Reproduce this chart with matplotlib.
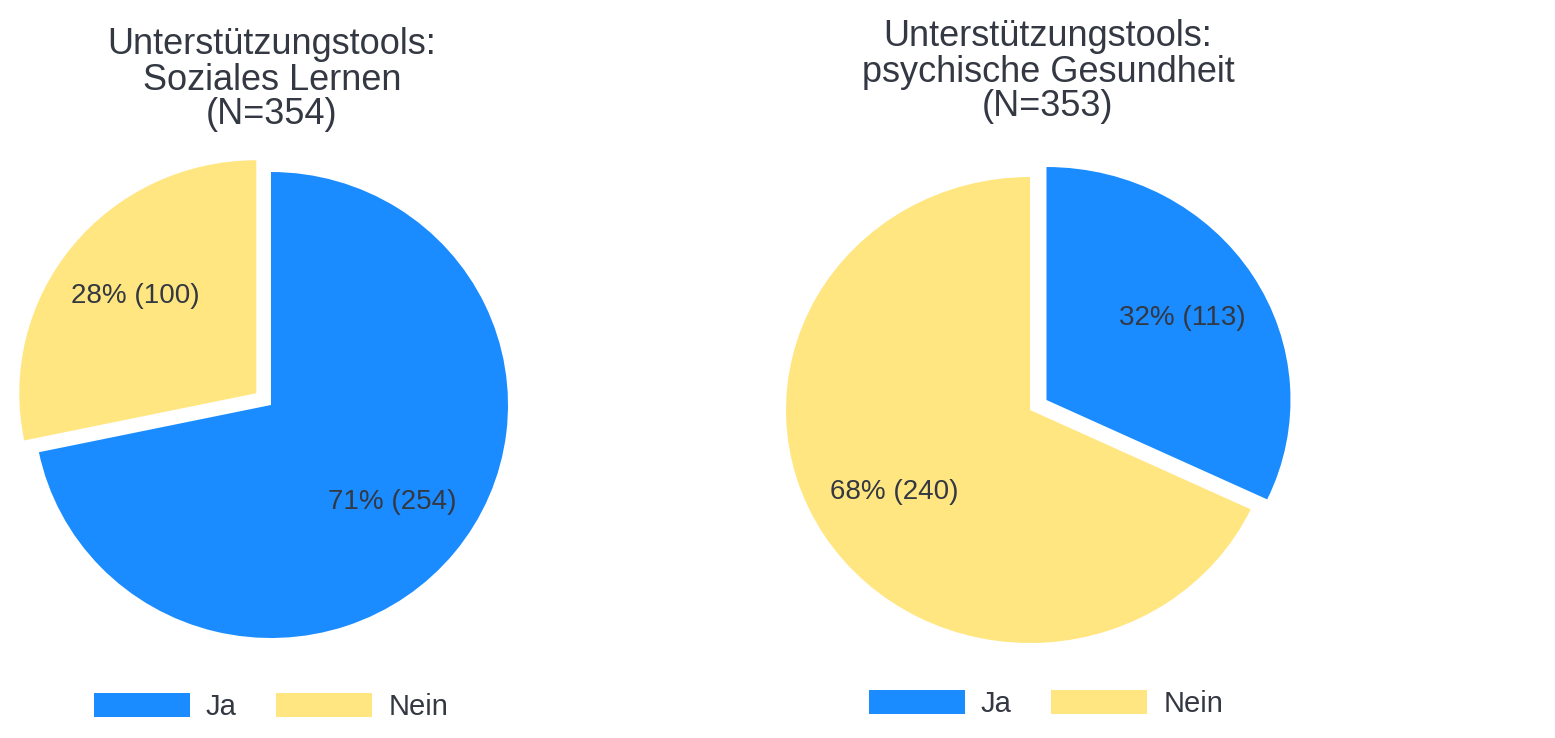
import matplotlib.pyplot as plt

W, H = 1555, 738

# data
categories = ["Ja", "Nein"]
colors = ["#1a8cff", "#ffe680"]

left_title = "Unterstützungstools:\nSoziales Lernen\n(N=354)"
left_counts = [254, 100]
left_pcts = [71, 28]

right_title = "Unterstützungstools:\npsychische Gesundheit\n(N=353)"
right_counts = [113, 240]
right_pcts = [32, 68]

text_color = "#333842"
plt.rcParams["font.family"] = ["Liberation Sans", "DejaVu Sans"]

fig = plt.figure(figsize=(W / 100, H / 100), dpi=100)

L = 1.12


def pie_axes(cx, cy, rx, ry):
    rect = [(cx - L * rx) / W, 1 - (cy + L * ry) / H, 2 * L * rx / W, 2 * L * ry / H]
    return fig.add_axes(rect)


def draw_pie(ax, counts, pcts, explode):
    wedges, _, autotexts = ax.pie(
        counts, colors=colors, startangle=90, counterclock=False,
        explode=explode, autopct="%1.0f%%", pctdistance=0.66,
        wedgeprops=dict(linewidth=0),
        textprops=dict(fontsize=20, color=text_color),
    )
    for t, p, c in zip(autotexts, pcts, counts):
        t.set_text(f"{p}% ({c})")
    for w in wedges:
        w.set_clip_on(False)
    ax.set_aspect("auto")
    ax.set_xlim(-L, L)
    ax.set_ylim(-L, L)
    ax.axis("off")
    return wedges


ax1 = pie_axes(271, 405, 237, 233)
w1 = draw_pie(ax1, left_counts, left_pcts, [0, 0.08])

ax2 = pie_axes(1030, 410, 244, 233)
w2 = draw_pie(ax2, right_counts, right_pcts, [0.08, 0])

fig.text(272 / W, 1 - 80 / H, left_title, ha="center", va="center",
         fontsize=26, color=text_color, linespacing=1.0)
fig.text(1048 / W, 1 - 72 / H, right_title, ha="center", va="center",
         fontsize=26, color=text_color, linespacing=1.0)

for wedges, (lx, ly) in [(w1, (271, 707)), (w2, (1046, 704))]:
    fig.legend(wedges, categories, loc="center",
               bbox_to_anchor=(lx / W, 1 - ly / H), ncol=2, frameon=False,
               fontsize=21, labelcolor=text_color,
               handlelength=3.3, handleheight=0.9, handletextpad=0.55,
               columnspacing=1.35, borderaxespad=0)

fig.savefig("out.png", dpi=100)
